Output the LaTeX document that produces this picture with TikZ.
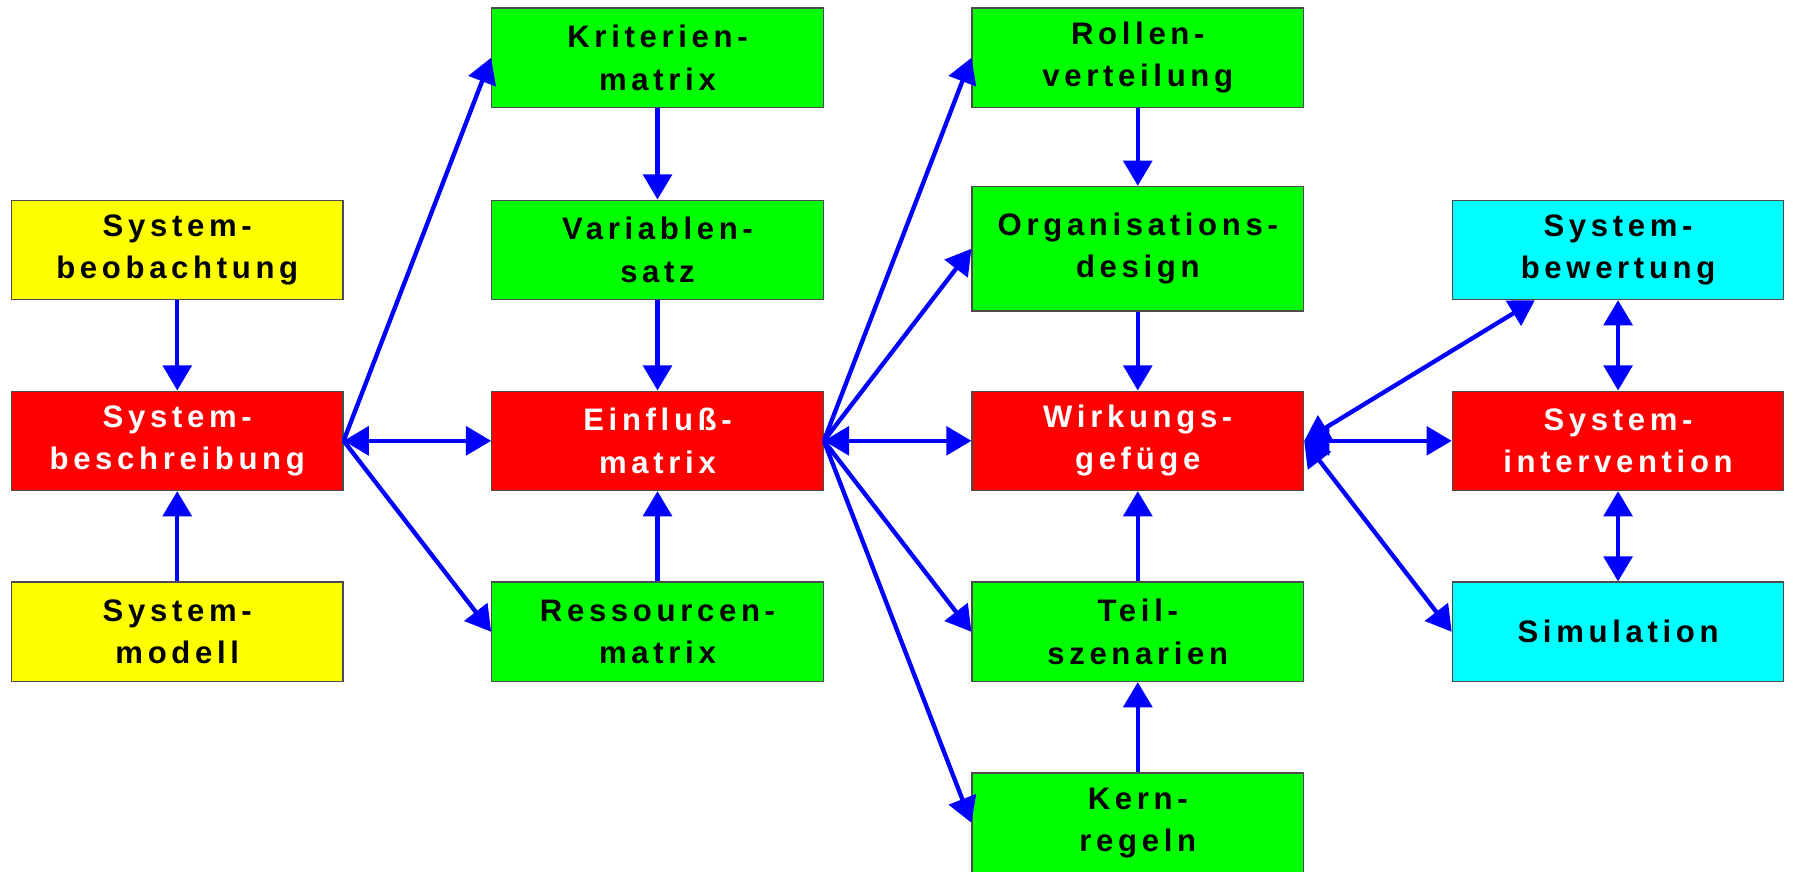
\documentclass[tikz,border=0pt]{standalone}
\usepackage{fontspec}
\setmainfont[LetterSpace=15]{Liberation Sans}
\usetikzlibrary{arrows.meta,calc}
\definecolor{ye}{RGB}{255,255,0}
\definecolor{gr}{RGB}{0,255,0}
\definecolor{rd}{RGB}{255,0,0}
\definecolor{cy}{RGB}{0,255,255}
\definecolor{bl}{RGB}{0,0,255}
\begin{document}
\begin{tikzpicture}[x=0.5pt,y=-0.5pt,
  box/.style={draw=black!70, line width=0.5pt, minimum width=145pt, minimum height=43.5pt,
    inner sep=0pt, align=center, font=\fontsize{13.6}{18.5}\selectfont\bfseries},
  yel/.style={box, fill=ye, text=black},
  grn/.style={box, fill=gr, text=black},
  redb/.style={box, fill=rd, text=white},
  cyn/.style={box, fill=cy, text=black},
  conn/.style={draw=bl, line width=1.9pt, -{Triangle[length=11pt,width=12.5pt]}},
  bi/.style={draw=bl, line width=1.9pt, {Triangle[length=11pt,width=12.5pt]}-{Triangle[length=11pt,width=12.5pt]}}
]
\useasboundingbox (0,0) rectangle (1568,761.7);
\fill[white] (0,0) rectangle (1568,761.7);
% column 1
\node[yel]  (beob) at (155,218.5) {System-\\beobachtung};
\node[redb] (besch) at (155,385.5) {System-\\beschreibung};
\node[yel]  (modell) at (155,552.5) {System-\\modell};
% column 2
\node[grn]  (krit) at (575,50.5) {Kriterien-\\matrix};
\node[grn]  (var) at (575,218.5) {Variablen-\\satz};
\node[redb] (einf) at (575,385.5) {Einfluß-\\matrix};
\node[grn]  (ress) at (575,552.5) {Ressourcen-\\matrix};
% column 3
\node[grn]  (roll) at (995,50.5) {Rollen-\\verteilung};
\node[grn, minimum height=54.5pt] (org) at (995,217.5) {Organisations-\\design};
\node[redb] (wirk) at (995,385.5) {Wirkungs-\\gefüge};
\node[grn]  (teil) at (995,552.5) {Teil-\\szenarien};
\node[grn]  (kern) at (995,719.5) {Kern-\\regeln};
% column 4
\node[cyn]  (bew) at (1415,218.5) {System-\\bewertung};
\node[redb] (interv) at (1415,385.5) {System-\\intervention};
\node[cyn]  (sim) at (1415,552.5) {Simulation};
% connectors column 1
\draw[conn] (beob) -- (besch);
\draw[conn] (modell) -- (besch);
\draw[bi] (besch.east) -- (einf.west);
\draw[conn] (besch.east) -- (krit.west);
\draw[conn] (besch.east) -- (ress.west);
% column 2
\draw[conn] (krit) -- (var);
\draw[conn] (var) -- (einf);
\draw[conn] (ress) -- (einf);
\draw[bi] (einf.east) -- (wirk.west);
\draw[conn] (einf.east) -- (roll.west);
\draw[conn] (einf.east) -- (org.west);
\draw[conn] (einf.east) -- (teil.west);
\draw[conn] (einf.east) -- (kern.west);
% column 3
\draw[conn] (roll) -- (org);
\draw[conn] (org) -- (wirk);
\draw[conn] (teil) -- (wirk);
\draw[conn] (kern) -- (teil);
\coordinate (bewin) at ($(bew.south west)!0.25!(bew.south east)$);
\draw[bi] (wirk.east) -- (bewin);
\draw[bi] (wirk.east) -- (interv.west);
\draw[bi] (wirk.east) -- (sim.west);
% column 4
\draw[bi] (bew) -- (interv);
\draw[bi] (interv) -- (sim);
\end{tikzpicture}
\end{document}
